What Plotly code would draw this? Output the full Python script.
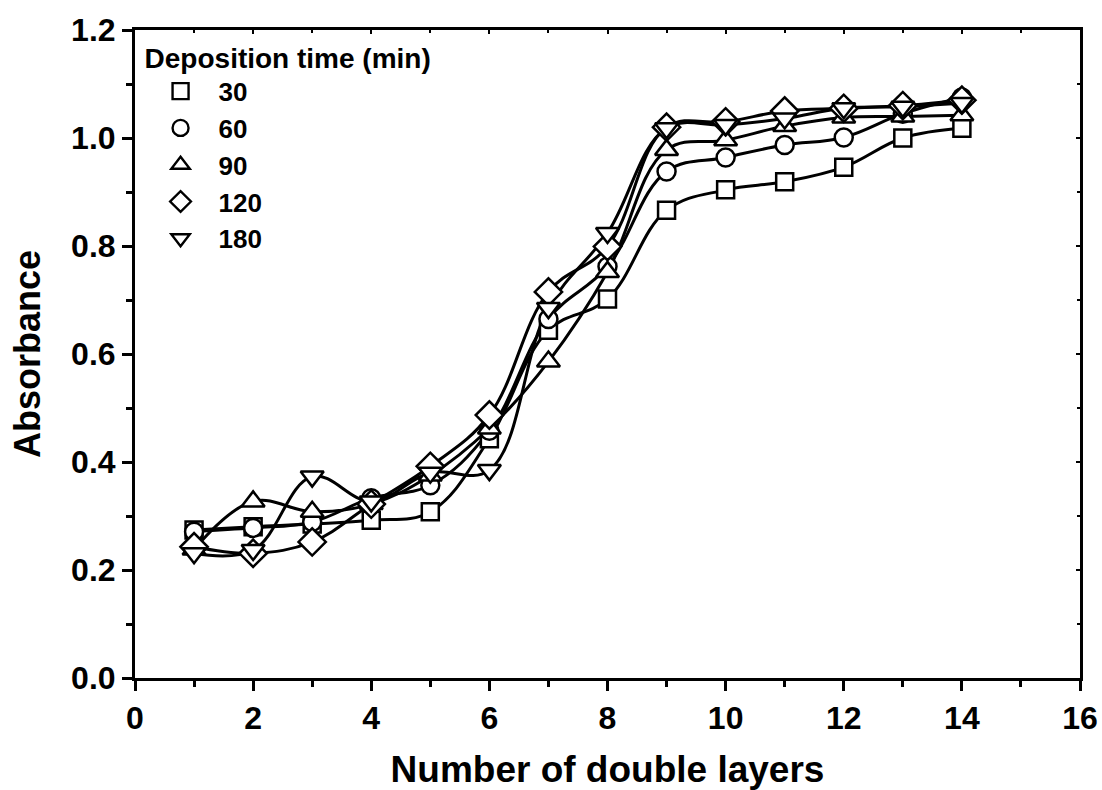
import plotly.graph_objects as go

layers = [1, 2, 3, 4, 5, 6, 7, 8, 9, 10, 11, 12, 13, 14]
series_names = ["30", "60", "90", "120", "180"]
abs_30 = [0.274, 0.280, 0.285, 0.292, 0.308, 0.443, 0.644, 0.702, 0.866, 0.904, 0.919, 0.946, 1.000, 1.018]
abs_60 = [0.271, 0.278, 0.289, 0.333, 0.357, 0.458, 0.665, 0.762, 0.938, 0.964, 0.987, 1.001, 1.045, 1.075]
abs_90 = [0.238, 0.327, 0.308, 0.322, 0.375, 0.462, 0.586, 0.752, 0.978, 0.996, 1.022, 1.038, 1.040, 1.042]
abs_120 = [0.243, 0.231, 0.252, 0.322, 0.392, 0.487, 0.715, 0.799, 1.020, 1.030, 1.050, 1.055, 1.060, 1.070]
abs_180 = [0.231, 0.237, 0.373, 0.327, 0.380, 0.385, 0.685, 0.824, 1.018, 1.024, 1.036, 1.055, 1.058, 1.065]
all_series = [abs_30, abs_60, abs_90, abs_120, abs_180]
symbols = ["square", "circle", "triangle-up", "diamond", "triangle-down"]
sizes = [17, 18, 20, 21, 20]

fig = go.Figure()
for name, ys in zip(series_names, all_series):
    fig.add_trace(go.Scatter(
        x=layers, y=ys, mode="lines", line=dict(color="black", width=3, shape="spline", smoothing=1.1),
        showlegend=False, hoverinfo="skip"))
for name, ys, sym, sz in zip(series_names, all_series, symbols, sizes):
    fig.add_trace(go.Scatter(
        x=layers, y=ys, mode="markers", showlegend=False,
        marker=dict(symbol=sym, size=sz, color="white",
                    line=dict(color="black", width=2.5))))
for name, sym in zip(series_names, symbols):
    fig.add_trace(go.Scatter(
        x=[None], y=[None], mode="markers", name=name,
        marker=dict(symbol=sym + "-open", size=16, color="black", line=dict(width=2.4))))

font_family = "Liberation Sans, Arial, sans-serif"
axis_common = dict(
    showline=True, linecolor="black", linewidth=3, mirror=True,
    ticks="outside", ticklen=10, tickwidth=3, tickcolor="black",
    showgrid=False, zeroline=False, automargin=False,
    tickfont=dict(family=font_family, size=32, color="black", weight="bold"),
)
fig.update_xaxes(
    range=[0, 16], dtick=2, tick0=0,
    minor=dict(dtick=1, ticks="outside", ticklen=6, tickwidth=3, tickcolor="black"),
    title=dict(text="<b>Number of double layers</b>", font=dict(family=font_family, size=37, color="black"), standoff=30),
    **axis_common)
fig.update_yaxes(
    range=[0, 1.2], dtick=0.2, tick0=0, tickformat=".1f",
    minor=dict(dtick=0.1, ticks="outside", ticklen=6, tickwidth=3, tickcolor="black"),
    title=dict(text="<b>Absorbance</b>", font=dict(family=font_family, size=36, color="black"), standoff=20),
    **axis_common)

# mirrored small inside ticks on top and right
fig.update_layout(
    xaxis2=dict(overlaying="x", side="top", range=[0, 16], dtick=2, tick0=0, showgrid=False, zeroline=False,
                showticklabels=False, ticks="inside", ticklen=4, tickwidth=2, tickcolor="black", automargin=False,
                minor=dict(dtick=1, ticks="inside", ticklen=3, tickwidth=2, tickcolor="black")),
    yaxis2=dict(overlaying="y", side="right", range=[0, 1.2], dtick=0.2, tick0=0, showgrid=False, zeroline=False,
                showticklabels=False, ticks="inside", ticklen=4, tickwidth=2, tickcolor="black", automargin=False,
                minor=dict(dtick=0.1, ticks="inside", ticklen=3, tickwidth=2, tickcolor="black")),
)
fig.add_trace(go.Scatter(x=[None], y=[None], xaxis="x2", yaxis="y2", showlegend=False, hoverinfo="skip"))

fig.update_layout(
    width=1102, height=790,
    margin=dict(l=135, r=22, t=30, b=112),
    plot_bgcolor="white", paper_bgcolor="white",
    font=dict(family=font_family, color="black"),
    legend=dict(
        x=0.008, y=0.998, xanchor="left", yanchor="top",
        bgcolor="rgba(0,0,0,0)", borderwidth=0,
        title=dict(text="<b>Deposition time (min)</b>", font=dict(family=font_family, size=28, color="black")),
        font=dict(family=font_family, size=26, color="black", weight="bold"),
        tracegroupgap=0, itemwidth=66,
    ),
)
fig.write_html("out.html", config={"displayModeBar": False},
               post_script="document.body.style.margin='0';")
